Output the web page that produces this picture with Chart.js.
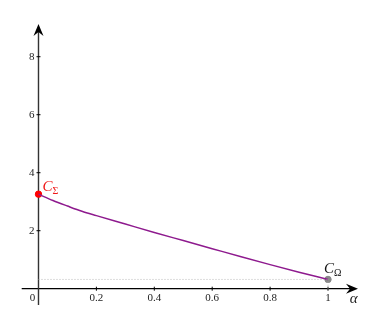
<!DOCTYPE html>
<html>
<head>
<meta charset="utf-8">
<script src="https://cdn.jsdelivr.net/npm/chart.js@4"></script>
<style>
  html, body { margin: 0; padding: 0; background: #fff; }
  #wrap { width: 382px; height: 331px; }
</style>
</head>
<body>
<div id="wrap"><canvas id="chart" width="382" height="331"></canvas></div>
<script>
// curve samples
const alphaValues = [0, 0.05, 0.1, 0.15, 0.2, 0.3, 0.4, 0.5, 0.6, 0.7, 0.8, 0.9, 1];
const costValues  = [3.26, 3.04, 2.85, 2.67, 2.52, 2.23, 1.94, 1.66, 1.38, 1.10, 0.83, 0.57, 0.32];

// end points
const sigmaPoint = [0, 3.26];
const omegaPoint = [1, 0.32];

// tick labels
const xTicks = [0.2, 0.4, 0.6, 0.8, 1];
const yTicks = [2, 4, 6, 8];

const serif = '"Liberation Serif", "DejaVu Serif", serif';

// draws the axes with arrows through the origin, plus tick labels
const axesPlugin = {
  id: 'axes',
  beforeDatasetsDraw(chart) {
    const { ctx, chartArea, scales: { x, y } } = chart;
    const x0 = x.getPixelForValue(0);
    const y0 = y.getPixelForValue(0);
    ctx.save();
    ctx.strokeStyle = '#000';
    ctx.fillStyle = '#000';
    ctx.lineWidth = 1.2;

    // x axis
    ctx.beginPath();
    ctx.moveTo(chartArea.left, y0);
    ctx.lineTo(chartArea.right - 4, y0);
    ctx.stroke();
    // y axis
    ctx.strokeStyle = '#333';
    ctx.lineWidth = 1.4;
    ctx.beginPath();
    ctx.moveTo(x0, chartArea.bottom);
    ctx.lineTo(x0, chartArea.top + 4);
    ctx.stroke();

    // arrow heads (stealth style)
    ctx.fillStyle = '#000';
    ctx.beginPath();
    ctx.moveTo(chartArea.right, y0);
    ctx.lineTo(chartArea.right - 12, y0 - 5);
    ctx.lineTo(chartArea.right - 8, y0);
    ctx.lineTo(chartArea.right - 12, y0 + 5);
    ctx.closePath();
    ctx.fill();
    ctx.beginPath();
    ctx.moveTo(x0, chartArea.top);
    ctx.lineTo(x0 - 5, chartArea.top + 12);
    ctx.lineTo(x0, chartArea.top + 8);
    ctx.lineTo(x0 + 5, chartArea.top + 12);
    ctx.closePath();
    ctx.fill();

    // ticks and labels
    ctx.strokeStyle = '#000';
    ctx.lineWidth = 1;
    ctx.font = '11px ' + serif;
    ctx.fillStyle = '#222';
    ctx.textAlign = 'center';
    ctx.textBaseline = 'middle';
    xTicks.forEach(v => {
      const px = x.getPixelForValue(v);
      ctx.beginPath();
      ctx.moveTo(px, y0 - 2);
      ctx.lineTo(px, y0 + 2);
      ctx.stroke();
      ctx.fillText(String(v), px, y0 + 9);
    });
    ctx.fillText('0', x0 - 6, y0 + 9);
    ctx.textAlign = 'right';
    yTicks.forEach(v => {
      const py = y.getPixelForValue(v);
      ctx.beginPath();
      ctx.moveTo(x0 - 2, py);
      ctx.lineTo(x0 + 2, py);
      ctx.stroke();
      ctx.fillText(String(v), x0 - 4, py);
    });

    // axis name
    ctx.textAlign = 'left';
    ctx.font = 'italic 15px ' + serif;
    ctx.fillText('α', x.getPixelForValue(1.075), y0 + 10);
    ctx.restore();
  },
  afterDatasetsDraw(chart) {
    const { ctx, scales: { x, y } } = chart;
    // point labels: C with a subscript
    function label(px, py, sub, color) {
      ctx.save();
      ctx.fillStyle = color;
      ctx.textBaseline = 'alphabetic';
      ctx.textAlign = 'left';
      ctx.font = 'italic 15px ' + serif;
      ctx.fillText('C', px, py);
      const w = ctx.measureText('C').width;
      ctx.font = '10px ' + serif;
      ctx.fillText(sub, px + w, py + 3);
      ctx.restore();
    }
    label(x.getPixelForValue(sigmaPoint[0]) + 4, y.getPixelForValue(sigmaPoint[1]) - 3, 'Σ', '#f01818');
    label(x.getPixelForValue(omegaPoint[0]) - 4, y.getPixelForValue(omegaPoint[1]) - 6, 'Ω', '#111');
  }
};

const curve = alphaValues.map((a, i) => ({ x: a, y: costValues[i] }));

new Chart(document.getElementById('chart'), {
  type: 'scatter',
  data: {
    datasets: [
      {
        // dotted level of C_Omega
        data: [{ x: 0, y: omegaPoint[1] }, { x: omegaPoint[0], y: omegaPoint[1] }],
        showLine: true,
        borderColor: '#aaa',
        borderWidth: 0.8,
        borderDash: [1, 2],
        pointRadius: 0
      },
      {
        data: [{ x: omegaPoint[0], y: 0 }, { x: omegaPoint[0], y: omegaPoint[1] }],
        showLine: true,
        borderColor: '#bbb',
        borderWidth: 0.8,
        borderDash: [1, 2],
        pointRadius: 0
      },
      {
        data: curve,
        showLine: true,
        borderColor: '#8e1a8e',
        borderWidth: 1.5,
        cubicInterpolationMode: 'monotone',
        pointRadius: 0
      },
      {
        data: [{ x: sigmaPoint[0], y: sigmaPoint[1] }],
        pointRadius: 3.2,
        pointBackgroundColor: '#f00',
        pointBorderColor: '#f00'
      },
      {
        data: [{ x: omegaPoint[0], y: omegaPoint[1] }],
        pointRadius: 3.2,
        pointBackgroundColor: '#888',
        pointBorderColor: '#888'
      }
    ]
  },
  options: {
    responsive: false,
    animation: false,
    layout: { padding: { left: 21.7, right: 24, top: 24, bottom: 26 } },
    plugins: { legend: { display: false }, tooltip: { enabled: false } },
    scales: {
      x: { type: 'linear', min: -0.058, max: 1.1036, display: false },
      y: { type: 'linear', min: -0.562, max: 9.128, display: false }
    }
  },
  plugins: [axesPlugin]
});
</script>
</body>
</html>
